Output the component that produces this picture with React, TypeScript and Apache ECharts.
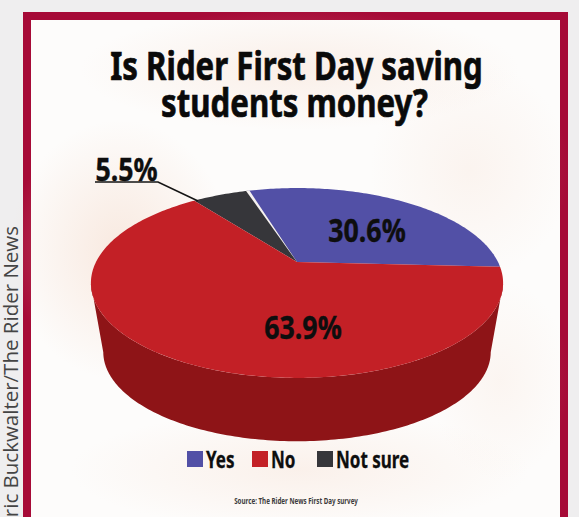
import React, { useEffect, useRef } from "react";
import * as echarts from "echarts";

const categories = ["Yes", "Not sure", "No"];
const shares = [30.6, 5.5, 63.9];
const faceColors = ["#5250a6", "#36363a", "#c32026"];
const sideColor = "#8e1417";
const legendOrder = ["Yes", "No", "Not sure"];
const titleLines = ["Is Rider First Day saving", "students money?"];
const sourceNote = "Source: The Rider News First Day survey";
const credit = "Eric Buckwalter/The Rider News";
const headingFont = '"Noto Sans", sans-serif';

// Tilted-disc projection: unit circle coordinates to screen pixels.
const CX = 297;
const APEX_Y = 262;
const RADIUS = 201;
const TILT_A = 32.4;
const TILT_C = -0.221;
const START_DEG = -3;
const project = (deg: number) => {
  const rad = (deg * Math.PI) / 180;
  const u = Math.cos(rad);
  const v = -Math.sin(rad);
  const w = 1 + TILT_C * v;
  return [CX + (RADIUS * u) / w, (TILT_A * v + APEX_Y) / w];
};
const lowerRim = (deg: number) => {
  const [x, y] = project(deg);
  return [CX + (x - CX) * 0.94, 352 + (y - 283) * 0.94];
};
const arcPoints = (from: number, to: number, fn: (d: number) => number[]) => {
  const pts: number[][] = [];
  const steps = Math.max(2, Math.ceil(Math.abs(to - from)));
  for (let i = 0; i <= steps; i++) pts.push(fn(from + ((to - from) * i) / steps));
  return pts;
};

const labelSpots: Record<string, number[]> = {
  Yes: [367, 229],
  "Not sure": [126.5, 168],
  No: [303, 326],
};
const legendSpots: Record<string, number> = { Yes: 187, No: 252, "Not sure": 317 };

// Condensed heavy lettering: a bold face squeezed horizontally.
const squeezed = (text: string, x: number, y: number, size: number, scaleX: number, align: string, fill = "#0e0e0e", weight = 0.5) => ({
  type: "text",
  x,
  y,
  scaleX,
  z: 20,
  style: {
    text,
    fill,
    stroke: fill,
    lineWidth: weight,
    font: `bold ${size}px ${headingFont}`,
    align,
    verticalAlign: "middle",
  },
});

// Faint warm patches behind the graphic.
const tint = (cx: number, cy: number, rx: number, ry: number, alpha: number) => ({
  type: "ellipse",
  z: -8,
  shape: { cx, cy, rx, ry },
  style: {
    fill: {
      type: "radial",
      x: 0.5,
      y: 0.5,
      r: 0.5,
      colorStops: [
        { offset: 0, color: `rgba(244,214,196,${alpha})` },
        { offset: 1, color: "rgba(244,214,196,0)" },
      ],
    },
  },
});

export default function App() {
  const ref = useRef<HTMLDivElement>(null);
  useEffect(() => {
    document.body.style.margin = "0";
    document.body.style.background = "#efeeef";
    const chart = echarts.init(ref.current!, undefined, { renderer: "svg" });
    const total = shares.reduce((a, b) => a + b, 0);

    const series = categories.map((name, idx) => {
      const before = shares.slice(0, idx).reduce((a, b) => a + b, 0);
      return {
        type: "custom",
        name,
        coordinateSystem: "none",
        z: 5,
        itemStyle: { color: faceColors[idx] },
        data: [shares[idx]],
        renderItem: (_p: unknown, api: any) => {
          const value = api.value(0) as number;
          const a0 = START_DEG + (before / total) * 360;
          const a1 = a0 + (value / total) * 360;
          const children: any[] = [];
          if (name === "No") {
            // The wall is visible along the front of the disc only.
            const front = arcPoints(193, 347, project);
            const back = arcPoints(347, 193, lowerRim);
            children.push({
              type: "polygon",
              shape: { points: [...front, ...back] },
              style: { fill: sideColor },
            });
          }
          children.push({
            type: "polygon",
            shape: { points: [[CX, APEX_Y], ...arcPoints(a0, a1, project)] },
            style: { fill: faceColors[idx] },
          });
          if (name === "Not sure") {
            children.push({
              type: "polygon",
              shape: { points: [[CX, APEX_Y], project(a0 - 0.5), project(a0 + 0.7)] },
              style: { fill: "#f6f2f0" },
            });
            children.push({
              type: "polyline",
              shape: { points: [[95, 182], [158, 182], [198, 201]] },
              style: { stroke: "#141414", lineWidth: 1.6, fill: "none" },
            });
          }
          const [lx, ly] = labelSpots[name];
          children.push({
            type: "text",
            x: lx,
            y: ly,
            scaleX: 0.81,
            z2: 10,
            style: {
              text: `${value}%`,
              fill: "#0e0e0e",
              stroke: "#0e0e0e",
              lineWidth: 0.4,
              font: `bold 33px ${headingFont}`,
              align: "center",
              verticalAlign: "middle",
            },
          });
          return { type: "group", children };
        },
      };
    });

    const legendMarks = legendOrder.flatMap((name) => {
      const x = legendSpots[name];
      return [
        { type: "rect", z: 20, shape: { x, y: 451, width: 16, height: 16 }, style: { fill: faceColors[categories.indexOf(name)] } },
        squeezed(name, x + 19, 459, 23, 0.74, "left", "#0e0e0e", 0.3),
      ];
    });

    chart.setOption({
      animation: false,
      backgroundColor: "#efeeef",
      graphic: [
        { type: "rect", z: -10, shape: { x: 23, y: 12, width: 545, height: 520 }, style: { fill: "#a60a37" } },
        { type: "rect", z: -9, shape: { x: 31, y: 20, width: 529, height: 520 }, style: { fill: "#fdfcfb" } },
        tint(120, 250, 110, 130, 0.5),
        tint(470, 170, 100, 110, 0.22),
        tint(300, 70, 220, 60, 0.35),
        tint(300, 470, 230, 60, 0.3),
        tint(500, 380, 70, 100, 0.18),
        squeezed(titleLines[0], 296.5, 65, 39, 0.8, "center", "#0a0a0a", 0.7),
        squeezed(titleLines[1], 294.5, 102, 39, 0.8, "center", "#0a0a0a", 0.7),
        squeezed(sourceNote, 296, 501, 8, 0.78, "center", "#3c3c3c", 0),
        ...legendMarks,
        {
          type: "text",
          z: -5,
          x: 20,
          y: 226,
          rotation: Math.PI / 2,
          style: { text: credit, font: '20.5px "Open Sans"', fill: "#444", align: "right", verticalAlign: "bottom" },
        },
      ],
      series,
    });
    return () => chart.dispose();
  }, []);
  return <div ref={ref} style={{ position: "fixed", left: 0, top: 0, width: 579, height: 517 }} />;
}
